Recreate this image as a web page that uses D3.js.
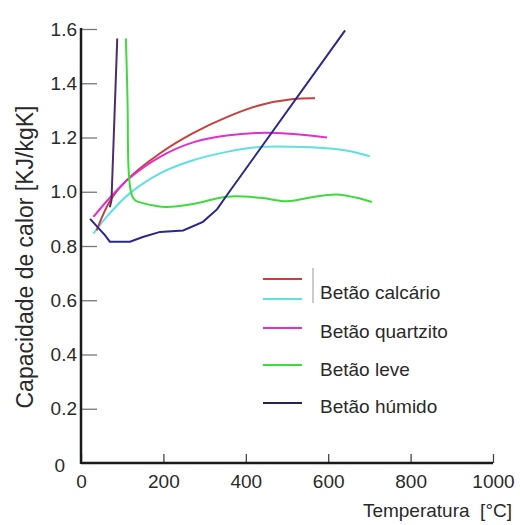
<!DOCTYPE html>
<html>
<head>
<meta charset="utf-8">
<script src="https://cdn.jsdelivr.net/npm/d3@7"></script>
<style>
  body { margin: 0; background: #fff; }
  text { font-family: "Liberation Sans", Arial, sans-serif; fill: #2a2a2a; }
</style>
</head>
<body>
<div id="chart"></div>
<script>
// temperature [°C] / heat capacity [kJ/kgK]
const xTicks = [0, 200, 400, 600, 800, 1000];
const yTicks = [0, 0.2, 0.4, 0.6, 0.8, 1.0, 1.2, 1.4, 1.6];
const yTickLabels = ["0", "0.2", "0.4", "0.6", "0.8", "1.0", "1.2", "1.4", "1.6"];

const calcarioRed = [[38, 0.858], [70, 0.965], [111, 1.043], [192, 1.142], [272, 1.216],
  [354, 1.275], [434, 1.319], [515, 1.342], [568, 1.345]];
const calcarioCyan = [[30, 0.846], [70, 0.921], [119, 0.995], [192, 1.068], [272, 1.116],
  [354, 1.147], [434, 1.165], [515, 1.166], [596, 1.160], [650, 1.150], [701, 1.131]];
const quartzito = [[30, 0.907], [70, 0.978], [119, 1.052], [192, 1.129], [272, 1.182],
  [354, 1.207], [434, 1.217], [515, 1.213], [597, 1.200]];
const leve = [[109, 1.565], [113, 1.33], [115, 1.10], [119, 1.02], [124, 0.985], [132, 0.968],
  [150, 0.958], [180, 0.948], [208, 0.944], [272, 0.955], [354, 0.982], [434, 0.978],
  [499, 0.965], [560, 0.98], [620, 0.99], [677, 0.975], [706, 0.962]];
const humido = [[22, 0.90], [58, 0.84], [70, 0.816], [119, 0.816], [150, 0.833], [192, 0.852],
  [248, 0.857], [296, 0.889], [330, 0.935], [354, 0.987], [641, 1.595]];
const humidoPico = [[70, 0.943], [74, 0.969], [88, 1.565]];

const legendLabels = ["Betão calcário", "Betão quartzito", "Betão leve", "Betão húmido"];

const width = 520, height = 525;

const svg = d3.select("#chart").append("svg")
    .attr("width", width)
    .attr("height", height);

const x = d3.scaleLinear().domain([0, 1000]).range([81, 493]);
const y = d3.scaleLinear().domain([0, 1.6]).range([463, 29]);

const line = d3.line()
    .x(d => x(d[0]))
    .y(d => y(d[1]))
    .curve(d3.curveCatmullRom.alpha(0.5));
const lineStraight = d3.line()
    .x(d => x(d[0]))
    .y(d => y(d[1]));

const curves = [
    {data: calcarioCyan, color: "#5ee0e6", gen: line},
    {data: calcarioRed, color: "#c8403c", gen: line},
    {data: quartzito, color: "#e030d2", gen: line},
    {data: leve, color: "#3ddc3d", gen: line},
    {data: humido, color: "#28288e", gen: lineStraight},
    {data: humidoPico, color: "#4b2e6b", gen: lineStraight}
];

svg.selectAll("path.curve")
    .data(curves)
    .enter().append("path")
    .attr("class", "curve")
    .attr("fill", "none")
    .attr("stroke", d => d.color)
    .attr("stroke-width", 2)
    .attr("d", d => d.gen(d.data));

// axes
const yAxis = svg.append("g")
    .attr("transform", `translate(${x(0)},0)`)
    .call(d3.axisLeft(y)
        .tickValues(yTicks.slice(1))
        .tickFormat((d, i) => yTickLabels[i + 1])
        .tickSize(-16)
        .tickSizeOuter(0)
        .tickPadding(4));
yAxis.select(".domain").remove();
yAxis.selectAll(".tick line").attr("stroke", "#777").attr("stroke-width", 1.3);
yAxis.selectAll(".tick text")
    .style("font-size", "19px")
    .attr("fill", "#2a2a2a");

// the zero label sits a little apart from the others
svg.append("text")
    .attr("x", x(0) - 16)
    .attr("y", y(0) + 2)
    .attr("dy", "0.35em")
    .attr("text-anchor", "end")
    .style("font-size", "19px")
    .text(yTickLabels[0]);

const xAxis = svg.append("g")
    .attr("transform", `translate(0,${y(0)})`)
    .call(d3.axisBottom(x)
        .tickValues(xTicks)
        .tickFormat(d => String(d))
        .tickSize(-9)
        .tickSizeOuter(0)
        .tickPadding(12));
xAxis.select(".domain").remove();
xAxis.selectAll(".tick line").attr("stroke", "#444").attr("stroke-width", 1.3);
xAxis.selectAll(".tick text")
    .style("font-size", "19px")
    .attr("fill", "#2a2a2a");

svg.append("line")
    .attr("x1", x(0)).attr("x2", x(0))
    .attr("y1", y(1.6) - 1).attr("y2", y(0) + 1)
    .attr("stroke", "#1a1a1a")
    .attr("stroke-width", 2.5);
svg.append("line")
    .attr("x1", x(0)).attr("x2", x(1000))
    .attr("y1", y(0)).attr("y2", y(0))
    .attr("stroke", "#1a1a1a")
    .attr("stroke-width", 2.5);

// titles
svg.append("text")
    .attr("transform", "translate(33,257) rotate(-90)")
    .attr("text-anchor", "middle")
    .style("font-size", "23px")
    .text("Capacidade de calor [KJ/kgK]");

svg.append("text")
    .attr("x", 512)
    .attr("y", 517)
    .attr("text-anchor", "end")
    .style("font-size", "19px")
    .text("Temperatura\u00a0\u00a0[°C]");

// legend
const legendLines = [
    {color: "#c8403c", y: 279},
    {color: "#5ee0e6", y: 299},
    {color: "#e030d2", y: 328},
    {color: "#3ddc3d", y: 365},
    {color: "#2a2255", y: 403}
];
svg.selectAll("line.leg")
    .data(legendLines)
    .enter().append("line")
    .attr("class", "leg")
    .attr("x1", 263).attr("x2", 302)
    .attr("y1", d => d.y).attr("y2", d => d.y)
    .attr("stroke", d => d.color)
    .attr("stroke-width", 2);

svg.append("line")
    .attr("x1", 313).attr("x2", 313)
    .attr("y1", 268).attr("y2", 303)
    .attr("stroke", "#999")
    .attr("stroke-width", 1);

const legendY = [292, 331, 369, 406];
svg.selectAll("text.leg")
    .data(legendLabels)
    .enter().append("text")
    .attr("class", "leg")
    .attr("x", 320)
    .attr("y", (d, i) => legendY[i])
    .attr("dy", "0.35em")
    .style("font-size", "19px")
    .text(d => d);
</script>
</body>
</html>
